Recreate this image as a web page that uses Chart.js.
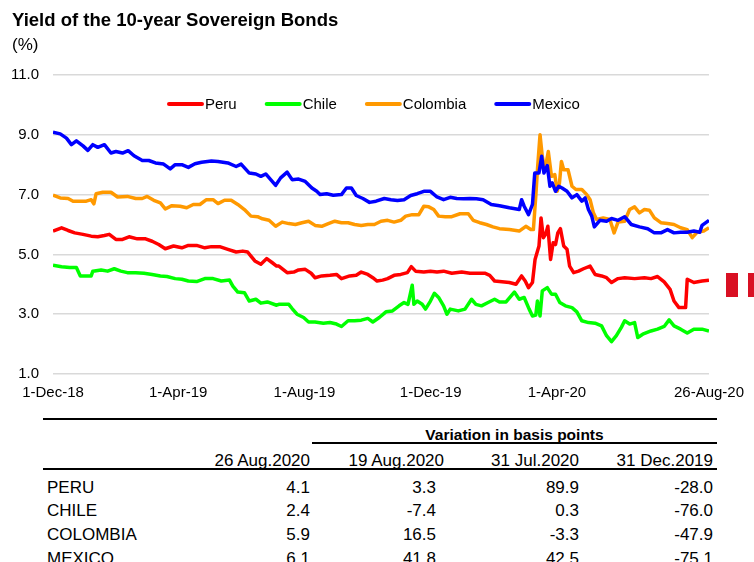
<!DOCTYPE html>
<html><head><meta charset="utf-8">
<script src="https://cdn.jsdelivr.net/npm/chart.js@4.4.1/dist/chart.umd.min.js"></script>
<style>
html,body{margin:0;padding:0;background:#fff}
body{width:754px;height:562px;overflow:hidden;position:relative;font-family:"Liberation Sans",Arial,sans-serif;color:#000}
#wrap{position:absolute;left:0;top:0;width:754px;height:410px}
.t{position:absolute;white-space:nowrap;line-height:20px}
.hl{position:absolute;height:2px;background:#000}
.flag{position:absolute;top:273px;height:24px}
</style></head><body>
<div id="wrap"><canvas id="c" width="754" height="410"></canvas></div>
<div class="t" style="left:12px;top:10px;font-weight:bold;font-size:18.5px">Yield of the 10-year Sovereign Bonds</div>
<div class="t" style="left:12px;top:35px;font-size:17px">(%)</div>
<div class="flag" style="left:726px;width:12px;background:#d91023"></div>
<div class="flag" style="left:738px;width:10px;background:#ffffff"></div>
<div class="flag" style="left:748px;width:6px;background:#d91023"></div>
<div id="table"></div>
<script>
// ---- chart data (x = days since 1-Dec-2018) ----
const xTickDays = [0, 121, 243, 365, 487, 634];
const xTickLabels = ['1-Dec-18', '1-Apr-19', '1-Aug-19', '1-Dec-19', '1-Apr-20', '26-Aug-20'];
const seriesNames = ['Peru', 'Chile', 'Colombia', 'Mexico'];

const peruDays = [0,8.3,14.6,21,29,36.9,43.3,49.7,54.4,60.8,67.2,73.5,81.5,89.5,95.8,102.2,108.5,116.5,124.5,130.8,138.8,146.7,153.1,161.1,169,177,183.4,188.1,191.3,195.1,200.9,206.6,212,216.1,218.3,226.3,232.7,237.4,243.8,249.5,253.3,259.7,267.7,274,278.8,286.8,293.1,297.9,304.3,309.1,313.2,318.6,323.4,329.7,336.1,342.5,346.3,350.4,358.4,364.8,371.1,377.5,385.4,395,403,410.9,417.3,422.1,426.8,436.3,441.1,447.5,452.9,456.4,459.6,463.4,465.9,469.7,471.7,473.9,476.1,478.3,480.9,483.4,485.7,487.9,490.4,493.6,496.8,499.3,503.2,507.9,512.7,519.1,523.9,530.2,535,539.8,546.1,552.5,562.1,571.6,578,584.3,590.7,596.4,600.2,605,611.4,613,619.4,627.3,634];
const peruYield = [5.78,5.89,5.8,5.72,5.67,5.61,5.59,5.63,5.67,5.5,5.5,5.59,5.52,5.52,5.44,5.33,5.19,5.28,5.22,5.3,5.3,5.22,5.26,5.26,5.17,5.08,5.11,5.08,4.94,4.78,4.67,4.86,4.72,4.61,4.61,4.39,4.41,4.48,4.5,4.37,4.22,4.28,4.3,4.33,4.19,4.28,4.3,4.41,4.33,4.22,4.11,4.14,4.19,4.3,4.33,4.39,4.59,4.44,4.41,4.44,4.41,4.44,4.37,4.41,4.37,4.37,4.37,4.3,4.11,4.08,4.06,4.0,4.28,4.11,3.89,4.06,4.83,5.28,6.22,5.56,5.67,5.94,4.83,5.39,5.33,5.72,5.86,5.28,5.17,4.61,4.39,4.44,4.52,4.61,4.33,4.28,4.22,4.06,4.19,4.22,4.19,4.22,4.19,4.26,4.08,3.83,3.44,3.22,3.22,4.17,4.06,4.11,4.14];

const chileDays = [0,8.3,16.2,22.6,26.4,32.2,36.9,38.5,46.5,52.8,59.2,65.6,71.9,79.9,87.9,95.8,103.8,110.1,118.1,124.5,130.8,138.8,146.7,154.7,162.7,170.6,173.8,178.6,185,189.7,196.1,200.9,207.2,216.1,218.3,227.9,231.1,235.8,242.2,247,253.3,261.3,267.7,274,278.8,285.2,291.5,297.9,304.3,309.1,315.4,321.8,328.1,334.5,339.3,343.1,347.2,348.8,352,356.8,360,364.8,368.6,372.7,377.5,380.7,383.9,391.8,398.2,404.5,408.7,414.1,420.5,426.8,431.5,437.9,445.9,450.6,455.4,460.2,463.4,466.6,468.2,470.7,472.9,477.7,481.8,485.7,489.8,495.2,501.6,506.3,511.1,517.5,523.9,530.2,535,539.8,544.5,549.3,552.5,557.3,562.1,565.2,570,578,584.3,590.7,595.5,600.2,606.6,613,619.4,627.3,634];
const chileYield = [4.64,4.59,4.56,4.56,4.28,4.28,4.28,4.44,4.48,4.44,4.52,4.44,4.39,4.39,4.37,4.33,4.28,4.26,4.19,4.17,4.11,4.09,4.19,4.19,4.11,4.14,3.94,3.74,3.72,3.44,3.5,3.37,3.41,3.3,3.33,3.33,3.19,3.0,2.89,2.74,2.74,2.7,2.72,2.67,2.59,2.78,2.78,2.8,2.86,2.74,2.89,3.08,3.11,3.28,3.39,3.33,3.97,3.33,3.44,3.33,3.17,3.44,3.7,3.56,3.28,3.0,3.17,3.11,3.17,3.5,3.33,3.28,3.39,3.5,3.41,3.41,3.74,3.5,3.56,3.17,2.94,2.97,3.44,2.94,3.78,3.89,3.67,3.67,3.39,3.28,3.22,3.08,2.78,2.72,2.7,2.61,2.28,2.08,2.28,2.56,2.78,2.67,2.72,2.22,2.33,2.44,2.5,2.59,2.81,2.61,2.5,2.37,2.5,2.5,2.44];

const colombiaDays = [0,7,14.6,19.4,25.8,32.2,36.9,39.5,41.7,48.1,56,62.4,71.9,79.9,86.3,91,97.4,103.8,108.5,114.9,122.9,129.2,135.6,142,148.3,154.7,159.5,165.8,172.2,178.6,185,191.3,197.7,202.4,208.8,215.2,221.5,227.9,234.3,240.6,247,253.3,259.7,266.1,272.4,278.8,285.2,291.5,297.9,304.3,310.6,317,323.4,329.7,336.1,340.9,347.2,353.6,358.4,363.2,368,372.7,379.1,385.4,393.4,401.4,406.1,412.5,418.9,425.2,431.5,441.1,450.6,457,461.8,464.3,466.6,468.2,470.7,472.9,475.5,478.7,481.8,485,487.3,489.5,491.4,493.6,497.8,501.6,505.4,511.1,515.9,519.1,522.3,525.4,531.8,538.2,542.3,546.1,552.5,557.3,562.1,566.8,571.6,576.4,581.2,587.5,593.9,600.2,606.6,613,617.8,622.5,628.9,634];
const colombiaYield = [6.98,6.89,6.87,6.78,6.78,6.78,6.83,6.69,7.03,7.08,7.08,6.92,6.94,6.87,6.87,6.94,6.81,6.72,6.52,6.63,6.61,6.56,6.67,6.67,6.83,6.83,6.7,6.81,6.81,6.67,6.5,6.28,6.26,6.19,6.14,5.94,6.08,6.03,6.0,6.06,6.11,5.97,5.94,6.03,6.11,6.06,6.06,6.0,5.97,6.0,6.0,6.11,6.14,6.08,6.14,6.28,6.33,6.33,6.61,6.59,6.5,6.28,6.26,6.26,6.36,6.36,6.14,6.06,6.0,5.92,5.86,5.83,5.78,5.94,5.83,5.83,6.94,7.83,9.0,8.28,7.83,8.44,7.61,7.67,7.11,7.39,8.11,7.83,7.83,7.28,7.17,7.17,7.0,6.83,6.39,6.17,6.22,6.17,5.72,6.08,6.11,6.5,6.59,6.39,6.5,6.48,6.22,6.06,6.03,6.0,5.89,5.83,5.56,5.74,5.78,5.89];

const mexicoDays = [0,7,13,17.8,22.6,29,33.7,38.5,43.3,49.7,56,60.8,67.2,72.6,78.3,86.3,92.6,99,106.9,113.3,118.1,124.5,130.8,137.2,143.6,153.1,159.5,169,177,181.8,189.7,196.1,200.9,205.6,210.4,215.2,220,226.3,231.1,237.4,243.8,250.2,254.9,258.1,264.5,270.9,278.8,283.6,288.4,293.1,299.5,305.9,312.2,320.2,326.6,332.9,339.3,345.7,352,358.4,364.8,371.1,377.5,383.9,390.2,396.6,403,409.3,415.7,423.6,431.5,441.1,450.6,452.9,455.4,459.6,463.4,465.6,469.7,472.3,474.5,477.7,480.3,482.5,485.7,488.8,492,496.8,501.6,506.3,511.1,514.3,517.5,520.7,523.2,528.6,535,539.8,546.1,552.5,558.9,566.8,574.8,581.2,587.5,593.9,600.2,606.6,613,619.4,625.1,627.3,634];
const mexicoYield = [9.09,9.03,8.89,8.67,8.8,8.63,8.48,8.67,8.58,8.67,8.39,8.44,8.39,8.47,8.3,8.14,8.14,8.06,8.02,7.86,8.0,8.0,7.91,8.03,8.08,8.12,8.11,8.06,7.94,8.02,7.72,7.69,7.61,7.69,7.5,7.31,7.56,7.75,7.5,7.52,7.44,7.22,7.11,7.0,7.03,6.98,7.0,7.22,7.22,6.97,6.87,6.74,6.78,6.87,6.83,6.8,6.83,6.97,7.03,7.11,7.11,6.92,6.83,6.91,6.87,6.86,6.87,6.86,6.83,6.67,6.63,6.56,6.5,6.83,6.61,6.33,6.67,7.72,7.72,8.28,7.72,7.97,7.28,7.39,7.11,7.28,7.22,7.11,6.89,7.0,6.78,6.89,6.5,6.28,5.92,6.14,6.11,6.2,6.14,6.26,6.0,5.92,5.86,5.72,5.72,5.83,5.72,5.74,5.74,5.78,5.74,5.97,6.14];

const seriesColors = ['#ff0000', '#00ff00', '#ff9900', '#0000ff'];

// ---- table data ----
const tableRows = ['PERU', 'CHILE', 'COLOMBIA', 'MEXICO'];
const tableHeaders = ['26 Aug.2020', '19 Aug.2020', '31 Jul.2020', '31 Dec.2019'];
const yield26Aug = [4.1, 2.4, 5.9, 6.1];
const var19Aug = [3.3, -7.4, 16.5, 41.8];
const var31Jul = [89.9, 0.3, -3.3, 42.5];
const var31Dec = [-28.0, -76.0, -47.9, -75.1];

const FONT = '"Liberation Sans", Arial, sans-serif';
const zip = (d, v) => d.map((x, i) => ({x: x, y: v[i]}));
const allDays = [peruDays, chileDays, colombiaDays, mexicoDays];
const allYields = [peruYield, chileYield, colombiaYield, mexicoYield];
const drawOrder = [4, 3, 2, 1];

const datasets = seriesNames.map((n, i) => ({
  label: n,
  data: zip(allDays[i], allYields[i]),
  borderColor: seriesColors[i],
  backgroundColor: seriesColors[i],
  borderWidth: 3.5,
  pointRadius: 0,
  tension: 0,
  borderJoinStyle: 'round',
  order: drawOrder[i]
}));

const innerLegend = {
  id: 'innerLegend',
  afterDraw(chart) {
    const ctx = chart.ctx;
    ctx.save();
    ctx.font = '15px ' + FONT;
    ctx.textBaseline = 'middle';
    let x = 168;
    const y = 104;
    chart.data.datasets.forEach(ds => {
      ctx.strokeStyle = ds.borderColor;
      ctx.lineWidth = 4;
      ctx.lineCap = 'round';
      ctx.beginPath();
      ctx.moveTo(x + 1, y);
      ctx.lineTo(x + 34, y);
      ctx.stroke();
      ctx.fillStyle = '#000';
      ctx.fillText(ds.label, x + 37, y + 1);
      x += 37 + ctx.measureText(ds.label).width + 29;
    });
    ctx.restore();
  }
};

new Chart(document.getElementById('c'), {
  type: 'line',
  data: {datasets: datasets},
  options: {
    responsive: false,
    animation: false,
    layout: {padding: {left: 0, right: 37, top: 75, bottom: 0}},
    plugins: {legend: {display: false}, tooltip: {enabled: false}},
    scales: {
      x: {
        type: 'linear', min: 0, max: 634,
        grid: {display: false, drawTicks: false},
        border: {display: false},
        afterBuildTicks: s => { s.ticks = xTickDays.map(v => ({value: v})); },
        afterFit: s => { s.height = 36; },
        ticks: {
          autoSkip: false, maxRotation: 0, padding: 10, color: '#000',
          font: {size: 15, family: FONT},
          callback: (v, i) => xTickLabels[i]
        }
      },
      y: {
        min: 1, max: 11,
        grid: {color: '#d9d9d9', lineWidth: 1.5, drawTicks: false},
        border: {display: false},
        afterFit: s => { s.width = 53; },
        ticks: {
          stepSize: 2, padding: 14, color: '#000',
          font: {size: 15, family: FONT},
          callback: v => v.toFixed(1)
        }
      }
    }
  },
  plugins: [innerLegend]
});

// ---- table ----
const T = document.getElementById('table');
function add(html) { T.insertAdjacentHTML('beforeend', html); }
add('<div class="hl" style="left:43px;top:418px;width:674px"></div>');
add('<div class="t" style="left:312px;top:425px;width:405px;text-align:center;font-weight:bold;font-size:15.5px">Variation in basis points</div>');
add('<div class="hl" style="left:312px;top:442px;width:405px"></div>');
add('<div class="hl" style="left:43px;top:468px;width:674px"></div>');
const headerRight = [310, 444, 579, 713];
const valueRight = [310, 436, 579, 713];
tableHeaders.forEach((h, j) => {
  add('<div class="t" style="right:' + (754 - headerRight[j]) + 'px;top:451px;font-size:17px">' + h + '</div>');
});
const rowCenters = [488, 511, 535, 559];
const cols = [yield26Aug, var19Aug, var31Jul, var31Dec];
tableRows.forEach((r, i) => {
  const top = rowCenters[i] - 10;
  add('<div class="t" style="left:47px;top:' + top + 'px;font-size:17px">' + r + '</div>');
  cols.forEach((c, j) => {
    add('<div class="t" style="right:' + (754 - valueRight[j]) + 'px;top:' + top + 'px;font-size:17px">' + c[i].toFixed(1) + '</div>');
  });
});
</script>
</body></html>
